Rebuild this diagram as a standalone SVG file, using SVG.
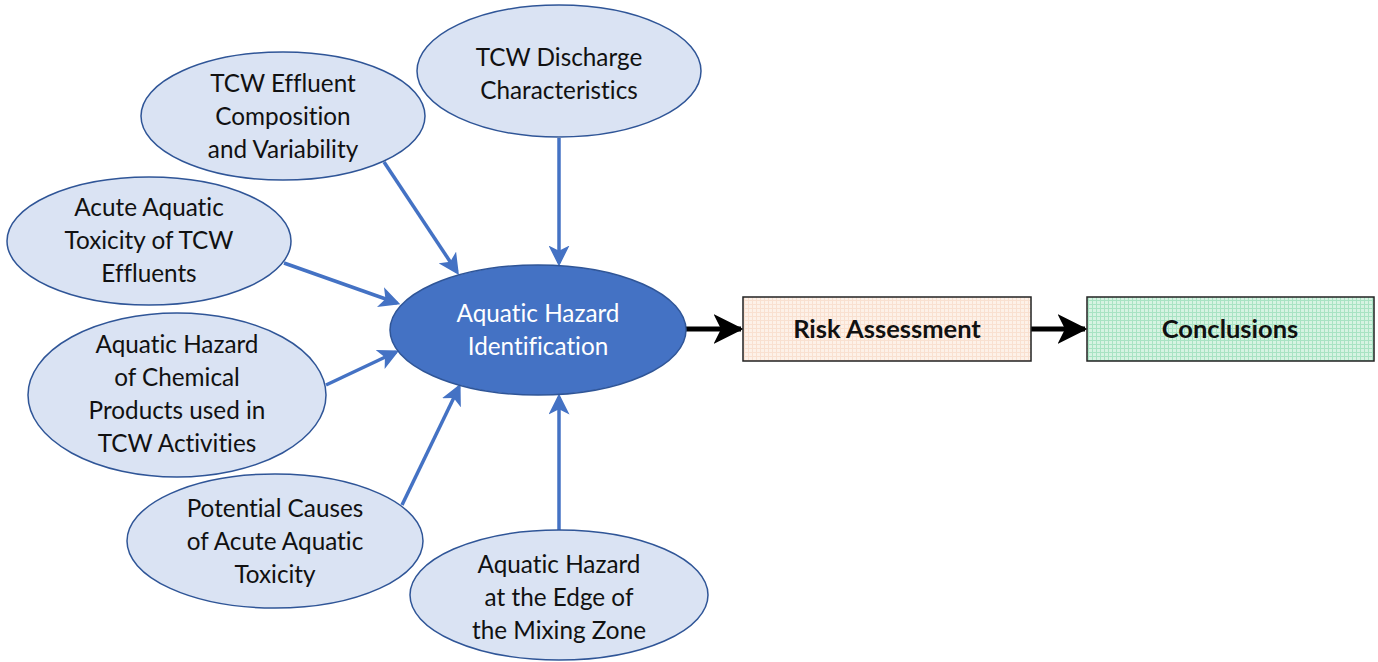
<svg xmlns="http://www.w3.org/2000/svg" width="1378" height="662" viewBox="0 0 1378 662">
<style>
.src{fill:#dae3f3;stroke:#2f5597;stroke-width:1.5}
.hub{fill:#4472c4;stroke:#2f5597;stroke-width:1.5}
.t{font-family:Lato,"Open Sans","Liberation Sans",sans-serif;font-size:24.3px;fill:#111;text-anchor:middle;font-variant-ligatures:none}
.tw{fill:#ffffff}
.tb{font-weight:bold;font-size:25.5px}
.blue{stroke:#4472c4;stroke-width:3.5;fill:none;marker-end:url(#ab)}
.black{stroke:#000;stroke-width:5;fill:none;marker-end:url(#ak)}
.box{stroke:#222;stroke-width:1.5}
</style>
<defs>
<marker id="ab" markerWidth="6" markerHeight="6" refX="5" refY="3" orient="auto" markerUnits="strokeWidth">
<path d="M0,0 L6,3 L0,6 L1.5,3 Z" fill="#4472c4"/>
</marker>
<marker id="ak" markerWidth="6" markerHeight="6" refX="5.5" refY="3" orient="auto" markerUnits="strokeWidth">
<path d="M0,0 L6,3 L0,6 L1.5,3 Z" fill="#000"/>
</marker>
<pattern id="pr" width="4" height="4" patternUnits="userSpaceOnUse">
<rect width="4" height="4" fill="#fdf1e8"/>
<path d="M0,0.5 H4 M0.5,0 V4" stroke="#f9e0d0" stroke-width="1"/>
</pattern>
<pattern id="pg" width="4" height="4" patternUnits="userSpaceOnUse">
<rect width="4" height="4" fill="#d6f3e2"/>
<path d="M0,0.5 H4 M0.5,0 V4" stroke="#a8e3c3" stroke-width="1"/>
</pattern>
</defs>

<g id="connectors">
<line class="blue" x1="559" y1="138" x2="559" y2="263"/>
<line class="blue" x1="384" y1="162" x2="457" y2="272"/>
<line class="blue" x1="284" y1="263" x2="397" y2="303"/>
<line class="blue" x1="326" y1="385" x2="396" y2="352"/>
<line class="blue" x1="402" y1="505" x2="459" y2="387"/>
<line class="blue" x1="559" y1="530" x2="559" y2="397"/>
<line class="black" x1="686" y1="329" x2="741" y2="329"/>
<line class="black" x1="1031" y1="329" x2="1085" y2="329"/>
</g>

<g id="discharge">
<ellipse class="src" cx="559" cy="71" rx="142" ry="66"/>
<text class="t" x="559" y="66">TCW Discharge</text>
<text class="t" x="559" y="99">Characteristics</text>
</g>

<g id="effluent-composition">
<ellipse class="src" cx="283" cy="116" rx="142" ry="64"/>
<text class="t" x="283" y="92">TCW Effluent</text>
<text class="t" x="283" y="125">Composition</text>
<text class="t" x="283" y="158">and Variability</text>
</g>

<g id="acute-toxicity">
<ellipse class="src" cx="149" cy="241" rx="142" ry="64"/>
<text class="t" x="149" y="216">Acute Aquatic</text>
<text class="t" x="149" y="249">Toxicity of TCW</text>
<text class="t" x="149" y="282">Effluents</text>
</g>

<g id="chemical-products">
<ellipse class="src" cx="177" cy="395" rx="149" ry="82"/>
<text class="t" x="177" y="353">Aquatic Hazard</text>
<text class="t" x="177" y="386">of Chemical</text>
<text class="t" x="177" y="419">Products used in</text>
<text class="t" x="177" y="452">TCW Activities</text>
</g>

<g id="potential-causes">
<ellipse class="src" cx="275" cy="541" rx="148" ry="67"/>
<text class="t" x="275" y="517">Potential Causes</text>
<text class="t" x="275" y="550">of Acute Aquatic</text>
<text class="t" x="275" y="583">Toxicity</text>
</g>

<g id="mixing-zone">
<ellipse class="src" cx="559" cy="595" rx="149" ry="65"/>
<text class="t" x="559" y="573">Aquatic Hazard</text>
<text class="t" x="559" y="606">at the Edge of</text>
<text class="t" x="559" y="639">the Mixing Zone</text>
</g>

<g id="hazard-identification">
<ellipse class="hub" cx="538" cy="330" rx="148" ry="65"/>
<text class="t tw" x="538" y="322">Aquatic Hazard</text>
<text class="t tw" x="538" y="355">Identification</text>
</g>

<g id="risk-assessment">
<rect class="box" x="743" y="297" width="288" height="64" fill="url(#pr)"/>
<text class="t tb" x="887" y="338">Risk Assessment</text>
</g>

<g id="conclusions">
<rect class="box" x="1087" y="297" width="287" height="64" fill="url(#pg)"/>
<text class="t tb" x="1230" y="338">Conclusions</text>
</g>
</svg>
